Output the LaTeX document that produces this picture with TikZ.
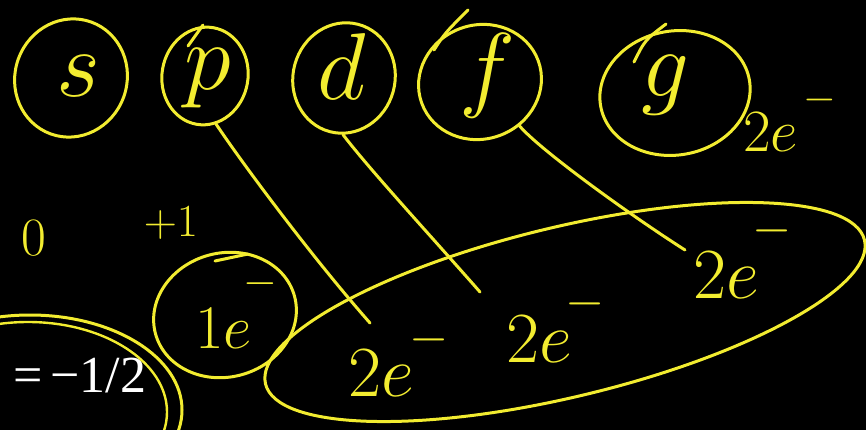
\RequirePackage{fix-cm}
\documentclass[tikz,border=0pt]{standalone}
\usepackage{fontspec}
\newfontfamily\timesfont{Liberation Serif}
\usetikzlibrary{shapes.geometric}
\definecolor{ink}{RGB}{242,236,48}
\newcommand{\elec}[3]{$#1e$\kern#2\raisebox{#3}{$\scriptstyle-$}}
\begin{document}
\begin{tikzpicture}[x=1pt,y=-1pt,
  inkline/.style={draw=ink,line width=3pt,line cap=round},
  orb/.style={inkline,ellipse,inner sep=0pt},
  letter/.style={text=ink,font=\fontsize{95}{95}\selectfont,inner sep=0pt},
  elecbig/.style={text=ink,font=\fontsize{72}{72}\selectfont,inner sep=0pt,anchor=base west},
  elecsmall/.style={text=ink,font=\fontsize{60}{60}\selectfont,inner sep=0pt,anchor=base west},
  num/.style={text=ink,font=\fontsize{54}{54}\selectfont,inner sep=0pt}]
\fill[black] (0,0) rectangle (866,430);
\useasboundingbox (0,0) rectangle (866,430);
\clip (0,0) rectangle (866,430);
% orbitals
\node[orb,minimum width=112pt,minimum height=119pt,rotate=-20] (s) at (71,78) {};
\node[letter] (sl) at (78,76) {$s$};
\node[orb,minimum width=86pt,minimum height=98pt,rotate=-10] (p) at (205,76) {};
\node[letter] (pl) at (208,78) {$p$};
\node[orb,minimum width=102pt,minimum height=111pt,rotate=-15] (d) at (344,78) {};
\node[letter] (dl) at (342,67) {$d$};
\node[orb,minimum width=124pt,minimum height=114pt,rotate=20] (f) at (480,82) {};
\node[letter] (fl) at (487,76) {$f$};
\node[orb,minimum width=151pt,minimum height=124pt,rotate=10] (g) at (675,93) {};
\node[letter] (gl) at (665,85) {$g$};
\node[elecsmall] (ge) at (743,152) {\elec{2}{6pt}{41pt}};
% small overshoot strokes
\draw[inkline] (188,46) -- (203,25);
\draw[inkline] (434,50) .. controls (445,33) .. (468,10);
\draw[inkline] (634,62) .. controls (645,40) .. (666,24);
\draw[inkline] (215,261) -- (248,254);
% quantum numbers
\node[num] (zero) at (34,238) {$0$};
\node[num,font=\fontsize{46}{46}\selectfont] (plus) at (171,223) {$+1$};
% connectors
\coordinate (pend) at (370,323);
\coordinate (dend) at (480,292);
\coordinate (fend) at (685,250);
\draw[inkline] (p.-67) .. controls (240,160) and (310,255) .. (pend);
\draw[inkline] (d.-76) .. controls (370,170) and (430,235) .. (dend);
\draw[inkline] (f.-68) .. controls (540,150) and (630,215) .. (fend);
% 1e circle
\node[orb,minimum width=144pt,minimum height=124pt,rotate=15] (one) at (225,315) {};
\node[text=ink,font=\fontsize{62}{62}\selectfont,inner sep=0pt,anchor=base west] (onel) at (195,348) {\elec{1}{-8pt}{54pt}};
% left partial ellipse
\node[text=white,font=\timesfont\fontsize{52}{52}\selectfont,inner sep=0pt,anchor=base west] (half) at (13,392) {=\kern8pt−1/2};
\draw[inkline] (30,410) ellipse [x radius=152pt, y radius=95pt];
\draw[inkline,line width=2.4pt] (28,412) ellipse [x radius=139pt, y radius=90pt];
% big ellipse
\draw[inkline] (565,312) ellipse [x radius=308pt, y radius=85pt, rotate=13.5];
\node[elecbig] (e1) at (348,396) {\elec{2}{-4pt}{44pt}};
\node[elecbig] (e2) at (506,362) {\elec{2}{-6pt}{46pt}};
\node[elecbig] (e3) at (693,298) {\elec{2}{-6pt}{55pt}};
\end{tikzpicture}
\end{document}
